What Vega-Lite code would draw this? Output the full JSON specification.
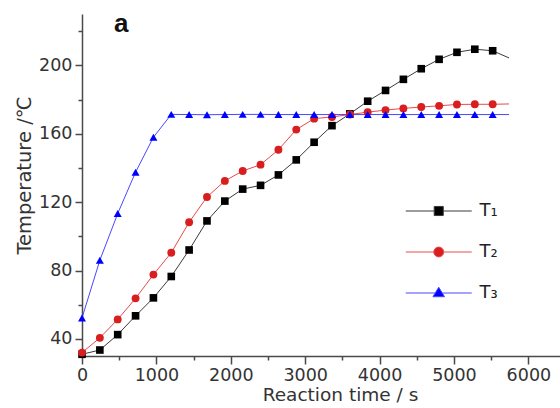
{
  "$schema": "https://vega.github.io/schema/vega-lite/v6.json",
  "autosize": "none",
  "width": 478,
  "height": 342,
  "padding": {"left": 82, "top": 14, "right": 0, "bottom": 52},
  "background": "white",
  "config": {
    "view": {"stroke": null},
    "font": "DejaVu Sans",
    "axis": {
      "grid": false,
      "domainColor": "#4a4a4a",
      "domainWidth": 1.5,
      "tickColor": "#4a4a4a",
      "tickWidth": 1.5,
      "labelColor": "#333333",
      "labelFontSize": 17.5,
      "labelFont": "DejaVu Sans",
      "titleFont": "DejaVu Sans",
      "titleFontSize": 18.5,
      "titleFontWeight": "normal",
      "titleColor": "#333333"
    }
  },
  "title": {
    "text": "a",
    "anchor": "start",
    "frame": "group",
    "orient": "top",
    "offset": 0,
    "dx": 32,
    "dy": 44,
    "baseline": "alphabetic",
    "fontSize": 26,
    "fontWeight": "bold",
    "font": "Liberation Sans",
    "color": "#111111"
  },
  "data": {
    "values": [
      {"series": "T1", "t": 0, "T": 31},
      {"series": "T1", "t": 240, "T": 33.5},
      {"series": "T1", "t": 480, "T": 42.5},
      {"series": "T1", "t": 720, "T": 53.5},
      {"series": "T1", "t": 960, "T": 64},
      {"series": "T1", "t": 1200, "T": 76.5},
      {"series": "T1", "t": 1440, "T": 92},
      {"series": "T1", "t": 1680, "T": 109},
      {"series": "T1", "t": 1920, "T": 120.6},
      {"series": "T1", "t": 2160, "T": 127.6},
      {"series": "T1", "t": 2400, "T": 129.8},
      {"series": "T1", "t": 2640, "T": 135.9},
      {"series": "T1", "t": 2880, "T": 144.7},
      {"series": "T1", "t": 3120, "T": 155},
      {"series": "T1", "t": 3360, "T": 164.7},
      {"series": "T1", "t": 3600, "T": 171.6},
      {"series": "T1", "t": 3840, "T": 179},
      {"series": "T1", "t": 4080, "T": 185.3},
      {"series": "T1", "t": 4320, "T": 191.8},
      {"series": "T1", "t": 4560, "T": 198},
      {"series": "T1", "t": 4800, "T": 203.5},
      {"series": "T1", "t": 5040, "T": 207.6},
      {"series": "T1", "t": 5280, "T": 209.4},
      {"series": "T1", "t": 5520, "T": 208.5},
      {"series": "T1", "t": 5740, "T": 204.3},
      {"series": "T2", "t": 0, "T": 32},
      {"series": "T2", "t": 240, "T": 40.6},
      {"series": "T2", "t": 480, "T": 51.4},
      {"series": "T2", "t": 720, "T": 63.7},
      {"series": "T2", "t": 960, "T": 77.6},
      {"series": "T2", "t": 1200, "T": 90.4},
      {"series": "T2", "t": 1440, "T": 108.2},
      {"series": "T2", "t": 1680, "T": 123},
      {"series": "T2", "t": 1920, "T": 132.4},
      {"series": "T2", "t": 2160, "T": 138.2},
      {"series": "T2", "t": 2400, "T": 141.9},
      {"series": "T2", "t": 2640, "T": 150.6},
      {"series": "T2", "t": 2880, "T": 162.4},
      {"series": "T2", "t": 3120, "T": 168.8},
      {"series": "T2", "t": 3360, "T": 169.8},
      {"series": "T2", "t": 3600, "T": 171.2},
      {"series": "T2", "t": 3840, "T": 172.6},
      {"series": "T2", "t": 4080, "T": 173.8},
      {"series": "T2", "t": 4320, "T": 174.8},
      {"series": "T2", "t": 4560, "T": 175.6},
      {"series": "T2", "t": 4800, "T": 176.3},
      {"series": "T2", "t": 5040, "T": 177.1},
      {"series": "T2", "t": 5280, "T": 177.2},
      {"series": "T2", "t": 5520, "T": 177.2},
      {"series": "T2", "t": 5740, "T": 177.4},
      {"series": "T3", "t": 0, "T": 52.2},
      {"series": "T3", "t": 240, "T": 86},
      {"series": "T3", "t": 480, "T": 113.3},
      {"series": "T3", "t": 720, "T": 137.5},
      {"series": "T3", "t": 960, "T": 157.9},
      {"series": "T3", "t": 1200, "T": 171.3},
      {"series": "T3", "t": 1440, "T": 171.2},
      {"series": "T3", "t": 1680, "T": 171.1},
      {"series": "T3", "t": 1920, "T": 171.2},
      {"series": "T3", "t": 2160, "T": 171.3},
      {"series": "T3", "t": 2400, "T": 171.3},
      {"series": "T3", "t": 2640, "T": 171.2},
      {"series": "T3", "t": 2880, "T": 171.2},
      {"series": "T3", "t": 3120, "T": 171.2},
      {"series": "T3", "t": 3360, "T": 171.2},
      {"series": "T3", "t": 3600, "T": 171.2},
      {"series": "T3", "t": 3840, "T": 171.2},
      {"series": "T3", "t": 4080, "T": 171.2},
      {"series": "T3", "t": 4320, "T": 171.2},
      {"series": "T3", "t": 4560, "T": 171.2},
      {"series": "T3", "t": 4800, "T": 171.2},
      {"series": "T3", "t": 5040, "T": 171.2},
      {"series": "T3", "t": 5280, "T": 171.2},
      {"series": "T3", "t": 5520, "T": 171.2},
      {"series": "T3", "t": 5740, "T": 171.2}
    ]
  },
  "encoding": {
    "x": {
      "field": "t",
      "type": "quantitative",
      "scale": {"domain": [0, 6425], "nice": false, "zero": false},
      "axis": {
        "title": "Reaction time / s",
        "values": [0, 500, 1000, 1500, 2000, 2500, 3000, 3500, 4000, 4500, 5000, 5500, 6000],
        "labelExpr": "datum.value % 1000 == 0 ? datum.label : ''",
        "format": "d",
        "tickSize": {"condition": {"test": "datum.value % 1000 != 0", "value": 4}, "value": 8},
        "labelPadding": 2,
        "labelFlush": false,
        "titlePadding": 2,
        "titleX": 258
      }
    },
    "y": {
      "field": "T",
      "type": "quantitative",
      "scale": {"domain": [30, 230], "nice": false, "zero": false},
      "axis": {
        "title": "Temperature /℃",
        "titleFontSize": 19.5,
        "values": [40, 60, 80, 100, 120, 140, 160, 180, 200, 220],
        "labelExpr": "datum.value % 40 == 0 ? datum.label : ''",
        "tickSize": {"condition": {"test": "datum.value % 40 != 0", "value": 4}, "value": 7},
        "labelPadding": 3,
        "labelFlush": false,
        "titlePadding": 4,
        "titleY": 161
      }
    }
  },
  "layer": [
    {
      "mark": {"type": "line", "strokeWidth": 1},
      "encoding": {
        "detail": {"field": "series"},
        "stroke": {
          "field": "series",
          "type": "nominal",
          "scale": {"domain": ["T1", "T2", "T3"], "range": ["#3a3a3a", "#e84a4a", "#4848ff"]}
        }
      }
    },
    {
      "transform": [{"filter": "datum.series == 'T1' && datum.t < 5700"}],
      "mark": {"type": "point", "shape": "square", "filled": true, "opacity": 1, "size": 58, "strokeWidth": 0, "fill": "#000000"},
      "encoding": {}
    },
    {
      "transform": [{"filter": "datum.series == 'T2' && datum.t < 5700"}],
      "mark": {"type": "point", "shape": "circle", "filled": true, "opacity": 1, "size": 62, "strokeWidth": 0, "fill": "#d81e1e"},
      "encoding": {}
    },
    {
      "transform": [{"filter": "datum.series == 'T3' && datum.t < 5700"}],
      "mark": {"type": "point", "shape": "triangle-up", "filled": true, "opacity": 1, "size": 64, "strokeWidth": 0, "fill": "#0000ff"},
      "encoding": {}
    },
    {
      "transform": [{"filter": "datum.t < 5700"}],
      "mark": {"type": "point", "filled": true, "opacity": 0, "size": 10},
      "encoding": {
        "fill": {
          "field": "series",
          "type": "nominal",
          "scale": {"domain": ["T1", "T2", "T3"], "range": ["#000000", "#d81e1e", "#0000ff"]}
        },
        "shape": {
          "field": "series",
          "type": "nominal",
          "scale": {
            "domain": ["T1", "T2", "T3"],
            "range": [
              "M-1,0H2.45M3.55,0H7M2.45,-0.55H3.55V0.55H2.45Z",
              "M-1,0H2.4M3.6,0H7M3.6,0A0.6,0.6,0,1,1,2.4,0A0.6,0.6,0,1,1,3.6,0Z",
              "M-1,0H2.58M3.42,0H7M3,-0.7L3.7,0.45H2.3Z"
            ]
          },
          "legend": {
            "title": null,
            "orient": "none",
            "legendX": 323,
            "legendY": 187,
            "padding": 0,
            "symbolSize": 272,
            "symbolStrokeWidth": 1,
            "symbolOpacity": 1,
            "labelOffset": 56.5,
            "labelFontSize": 18,
            "labelFont": "DejaVu Sans",
            "labelColor": "#222222",
            "clipHeight": 20,
            "rowPadding": 21,
            "labelExpr": "datum.value == 'T1' ? 'T₁' : datum.value == 'T2' ? 'T₂' : 'T₃'"
          }
        }
      }
    }
  ]
}
